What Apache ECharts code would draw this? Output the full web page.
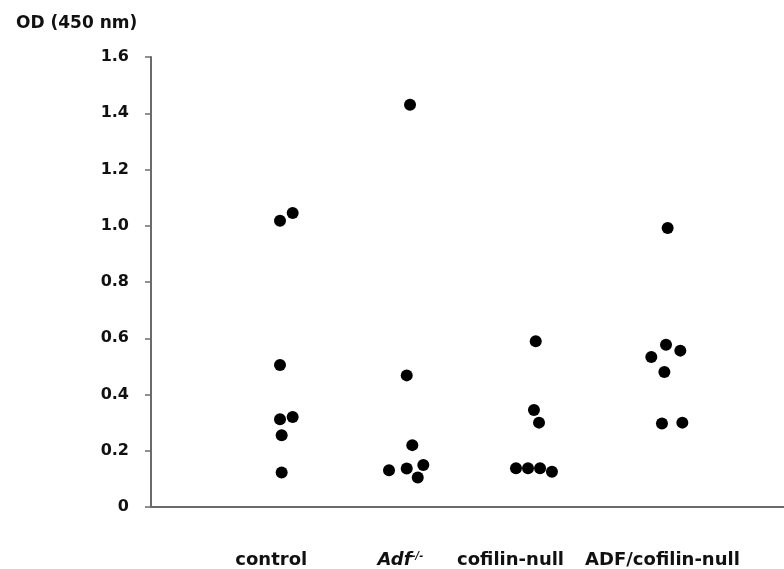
<!DOCTYPE html>
<html>
<head>
<meta charset="utf-8">
<script src="https://cdn.jsdelivr.net/npm/echarts@6/dist/echarts.min.js"></script>
<style>html,body{margin:0;padding:0;background:#fff;}#c{width:784px;height:569px;}</style>
</head>
<body>
<div id="c"></div>
<script>
// Group names (x axis categories)
const categories = ['control', 'Adf-/-', 'cofilin-null', 'ADF/cofilin-null'];
// OD values per group
const controlValues = [1.045, 1.018, 0.505, 0.320, 0.312, 0.255, 0.123];
const adfValues = [1.430, 0.468, 0.220, 0.149, 0.137, 0.131, 0.105];
const cofilinValues = [0.589, 0.345, 0.300, 0.138, 0.138, 0.138, 0.125];
const doubleValues = [0.992, 0.577, 0.556, 0.533, 0.480, 0.300, 0.297];
// horizontal scatter (beeswarm) offsets, in category units
const controlJitter = [0.119, 0.019, 0.019, 0.119, 0.019, 0.032, 0.032];
const adfJitter = [0.046, 0.020, 0.064, 0.151, 0.020, -0.120, 0.107];
const cofilinJitter = [0.039, 0.025, 0.065, -0.117, -0.022, 0.073, 0.167];
const doubleJitter = [0.081, 0.068, 0.181, -0.048, 0.055, 0.197, 0.036];
// y tick values
const yTicks = [0, 0.2, 0.4, 0.6, 0.8, 1.0, 1.2, 1.4, 1.6];

const groups = [
  [controlValues, controlJitter],
  [adfValues, adfJitter],
  [cofilinValues, cofilinJitter],
  [doubleValues, doubleJitter]
];
const points = [];
groups.forEach(([vals, jit], gi) => {
  vals.forEach((v, i) => points.push([gi + 1 + jit[i], v]));
});

const labelAt = [0.95, 1.97, 2.84, 4.04];

const chart = echarts.init(document.getElementById('c'), null, {renderer: 'canvas'});
const axisColor = '#6b6b6b';
const font = '"DejaVu Sans", "Liberation Sans", Arial, sans-serif';
chart.setOption({
  animation: false,
  backgroundColor: '#fff',
  title: {
    text: 'OD (450 nm)', left: 11, top: 10,
    textStyle: {fontFamily: font, fontWeight: 'bold', fontSize: 17, color: '#111'}
  },
  grid: {left: 151, right: 0, top: 57, bottom: 61},
  xAxis: [{
    type: 'value', min: 0, max: 5,
    axisLine: {show: true, onZero: false, lineStyle: {color: axisColor, width: 2}},
    axisTick: {show: false},
    splitLine: {show: false},
    axisLabel: {
      customValues: labelAt,
      margin: 44,
      fontFamily: font, fontWeight: 'bold', fontSize: 18, color: '#111',
      formatter: function (v) {
        const idx = labelAt.indexOf(v);
        const name = categories[idx];
        if (name === 'Adf-/-') return '{i|Adf}{s|-/-}';
        return name;
      },
      rich: {
        i: {fontFamily: font, fontWeight: 'bold', fontStyle: 'italic', fontSize: 18, color: '#111'},
        s: {fontFamily: font, fontWeight: 'bold', fontStyle: 'italic', fontSize: 10, color: '#111', verticalAlign: 'top', padding: [0, 0, 8, 0]}
      }
    }
  }, {
    type: 'value', min: 0, max: 5, position: 'top',
    axisLine: {show: true, lineStyle: {color: axisColor, width: 2}},
    axisTick: {show: false}, axisLabel: {show: false}, splitLine: {show: false}
  }],
  yAxis: {
    type: 'value', min: 0, max: 1.6, interval: 0.2,
    axisLine: {show: true, lineStyle: {color: axisColor, width: 2}},
    axisTick: {show: true, length: 6, lineStyle: {color: axisColor, width: 1.5}},
    splitLine: {show: false},
    axisLabel: {
      margin: 22,
      fontFamily: font, fontWeight: 'bold', fontSize: 16, color: '#111',
      formatter: function (v) {
        const t = yTicks.find(x => Math.abs(x - v) < 1e-6);
        if (t === undefined) return '';
        return t === 0 ? '0' : t.toFixed(1);
      }
    }
  },
  series: [{
    type: 'scatter',
    data: points,
    symbol: 'circle',
    symbolSize: 12,
    itemStyle: {color: '#000', opacity: 1}
  }]
});
</script>
</body>
</html>
